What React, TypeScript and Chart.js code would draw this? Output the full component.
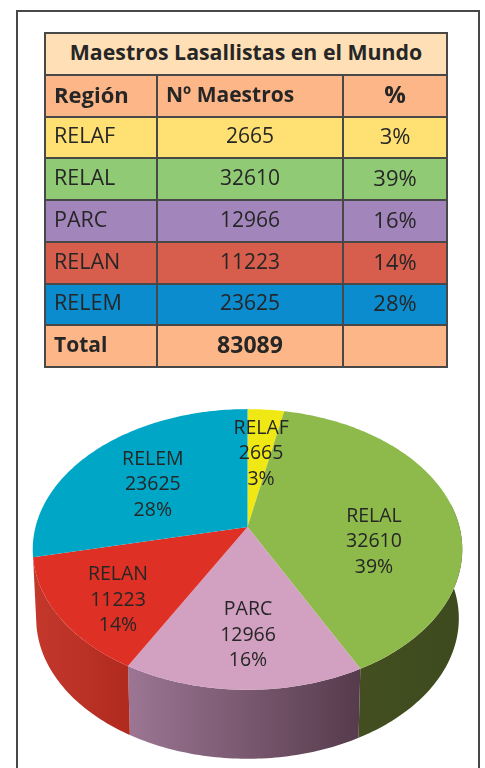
import React, { useEffect, useRef } from "react";
import { Chart, registerables, PieController, ArcElement } from "chart.js";

const title = "Maestros Lasallistas en el Mundo";
const headers = ["Región", "Nº Maestros", "%"];
const regions = ["RELAF", "RELAL", "PARC", "RELAN", "RELEM"];
const teachers = [2665, 32610, 12966, 11223, 23625];
const percents = ["3%", "39%", "16%", "14%", "28%"];
const totalLabel = "Total";
const totalValue = 83089;

const rowColors = ["#ffe173", "#90ca75", "#a286bb", "#d75d4c", "#0a8ccf"];
const topColors = ["#f0e814", "#8dba4a", "#d2a0c1", "#de3024", "#00a6c6"];
const sideStart = ["#b0aa10", "#434f20", "#9c7694", "#c4382c", "#007a92"];
const sideEnd = ["#b0aa10", "#3d4a1e", "#563b4c", "#b12a1e", "#007a92"];
const labelRadii = [0.605, 0.595, 0.695, 0.743, 0.58];
const labelShifts = [0.9, 16.9, -1.1, -4, -3.1];

const TILT = -0.16;
const SQUASH = 0.645;
const DEPTH = 69;
const BASE_SCALE = 0.984;
const INK = "#262626";
const FONT = '"Open Sans", sans-serif';

function project(el: any, theta: number, r = 1, base = false) {
  const R = el.outerRadius;
  const px = R * r * Math.sin(theta);
  const py = -R * r * Math.cos(theta);
  const den = 1 + (TILT * py) / R;
  let x = px / den;
  const y = (SQUASH * py) / den;
  if (base) x *= BASE_SCALE;
  return { x: el.x + x, y: el.y + y + (base ? DEPTH : 0) };
}

function thetaRange(el: any) {
  return [el.startAngle + Math.PI / 2, el.endAngle + Math.PI / 2];
}

class Arc3D extends ArcElement {
  static id = "arc3d";
  draw(ctx: CanvasRenderingContext2D) {
    const [a, b] = thetaRange(this);
    const steps = Math.max(2, Math.ceil(((b - a) * 180) / Math.PI));
    ctx.save();
    ctx.beginPath();
    ctx.moveTo((this as any).x, (this as any).y);
    for (let i = 0; i <= steps; i++) {
      const p = project(this, a + ((b - a) * i) / steps);
      ctx.lineTo(p.x, p.y);
    }
    ctx.closePath();
    ctx.fillStyle = (this as any).options.backgroundColor;
    ctx.fill();
    ctx.restore();
  }
}

class Pie3DController extends PieController {
  static id = "pie3d";
  static defaults = { dataElementType: "arc3d" };
  draw() {
    const ctx = (this as any).chart.ctx as CanvasRenderingContext2D;
    const arcs = (this as any)._cachedMeta.data;
    const front0 = (80 * Math.PI) / 180;
    const front1 = (257.5 * Math.PI) / 180;
    arcs.forEach((el: any, idx: number) => {
      const [s, e] = thetaRange(el);
      const a = Math.max(s, front0);
      const b = Math.min(e, front1);
      if (b <= a) return;
      const steps = Math.ceil(((b - a) * 180) / Math.PI);
      const top = [];
      const bottom = [];
      for (let i = 0; i <= steps; i++) {
        const t = a + ((b - a) * i) / steps;
        top.push(project(el, t));
        bottom.push(project(el, t, 1, true));
      }
      const xs = top.concat(bottom).map((p) => p.x);
      const g = ctx.createLinearGradient(Math.min(...xs), 0, Math.max(...xs), 0);
      g.addColorStop(0, sideStart[idx]);
      g.addColorStop(1, sideEnd[idx]);
      ctx.beginPath();
      top.forEach((p, i) => (i ? ctx.lineTo(p.x, p.y) : ctx.moveTo(p.x, p.y)));
      bottom.reverse().forEach((p) => ctx.lineTo(p.x, p.y));
      ctx.closePath();
      ctx.fillStyle = g;
      ctx.fill();
    });
    super.draw();
  }
}

Chart.register(...registerables, Arc3D as any, Pie3DController as any);

const sliceLabels = {
  id: "sliceLabels",
  afterDatasetsDraw(chart: any) {
    const ctx = chart.ctx as CanvasRenderingContext2D;
    ctx.save();
    ctx.font = `19.5px ${FONT}`;
    ctx.fillStyle = INK;
    ctx.textAlign = "center";
    ctx.textBaseline = "middle";
    chart.getDatasetMeta(0).data.forEach((el: any, i: number) => {
      const [a, b] = thetaRange(el);
      const t = (a + b) / 2 + (labelShifts[i] * Math.PI) / 180;
      const p = project(el, t, labelRadii[i]);
      [regions[i], String(teachers[i]), percents[i]].forEach((line, k) => {
        ctx.fillText(line, p.x, p.y + 1.5 + (k - 1) * 25.5);
      });
    });
    ctx.restore();
  },
};

const cell: React.CSSProperties = {
  borderStyle: "solid",
  borderColor: "#484848",
  borderWidth: 2,
  padding: "0 0 4px 0",
  overflow: "hidden",
  whiteSpace: "nowrap",
};

export default function App() {
  const ref = useRef<HTMLCanvasElement>(null);
  useEffect(() => {
    const chart = new Chart(ref.current!, {
      type: "pie3d" as any,
      data: {
        labels: regions,
        datasets: [{ data: teachers, backgroundColor: topColors, borderWidth: 0, hoverOffset: 0 }],
      },
      plugins: [sliceLabels],
      options: {
        animation: false,
        responsive: false,
        maintainAspectRatio: false,
        events: [],
        layout: { padding: { left: 35.5, right: 25.5, top: 315, bottom: 29 } },
        plugins: { legend: { display: false }, tooltip: { enabled: false } },
      } as any,
    });
    return () => chart.destroy();
  }, []);

  const leftCell = (extra: React.CSSProperties = {}) => ({ ...cell, textAlign: "left" as const, paddingLeft: 8, ...extra });
  const midCell = (extra: React.CSSProperties = {}) => ({ ...cell, textAlign: "center" as const, ...extra });
  const peach = "#fcb687";

  return (
    <div style={{ position: "absolute", left: 0, top: 0, width: 485, height: 768, overflow: "hidden", background: "#fff", fontFamily: FONT, color: INK }}>
      <div style={{ position: "absolute", left: 16, top: 10, width: 460, height: 800, border: "2px solid #484848" }} />
      <canvas ref={ref} width={485} height={768} style={{ position: "absolute", left: 0, top: 0, display: "block" }} />
      <table
        style={{
          position: "absolute",
          left: 44,
          top: 32,
          width: 402,
          height: 335,
          borderCollapse: "collapse",
          tableLayout: "fixed",
          fontSize: 21.5,
          lineHeight: "24px",
        }}
      >
        <colgroup>
          <col style={{ width: 112 }} />
          <col style={{ width: 186 }} />
          <col style={{ width: 104 }} />
        </colgroup>
        <tbody>
          <tr style={{ height: 41.75 }}>
            <td colSpan={3} style={midCell({ background: "#ffe0b6", fontWeight: 700, fontSize: 21.3 })}>{title}</td>
          </tr>
          <tr style={{ height: 41.75, background: peach, fontWeight: 700 }}>
            <td style={leftCell({ fontSize: 22 })}>{headers[0]}</td>
            <td style={leftCell({ fontSize: 21 })}>{headers[1]}</td>
            <td style={midCell({ fontSize: 24 })}>{headers[2]}</td>
          </tr>
          {regions.map((r, i) => (
            <tr key={r} style={{ height: 41.75, background: rowColors[i] }}>
              <td style={leftCell()}>{r}</td>
              <td style={midCell({ fontSize: 21 })}>{teachers[i]}</td>
              <td style={midCell({ fontSize: 22 })}>{percents[i]}</td>
            </tr>
          ))}
          <tr style={{ height: 41.75, background: peach, fontWeight: 700 }}>
            <td style={leftCell({ fontSize: 21 })}>{totalLabel}</td>
            <td style={midCell({ fontSize: 23 })}>{totalValue}</td>
            <td style={midCell()} />
          </tr>
        </tbody>
      </table>
    </div>
  );
}
